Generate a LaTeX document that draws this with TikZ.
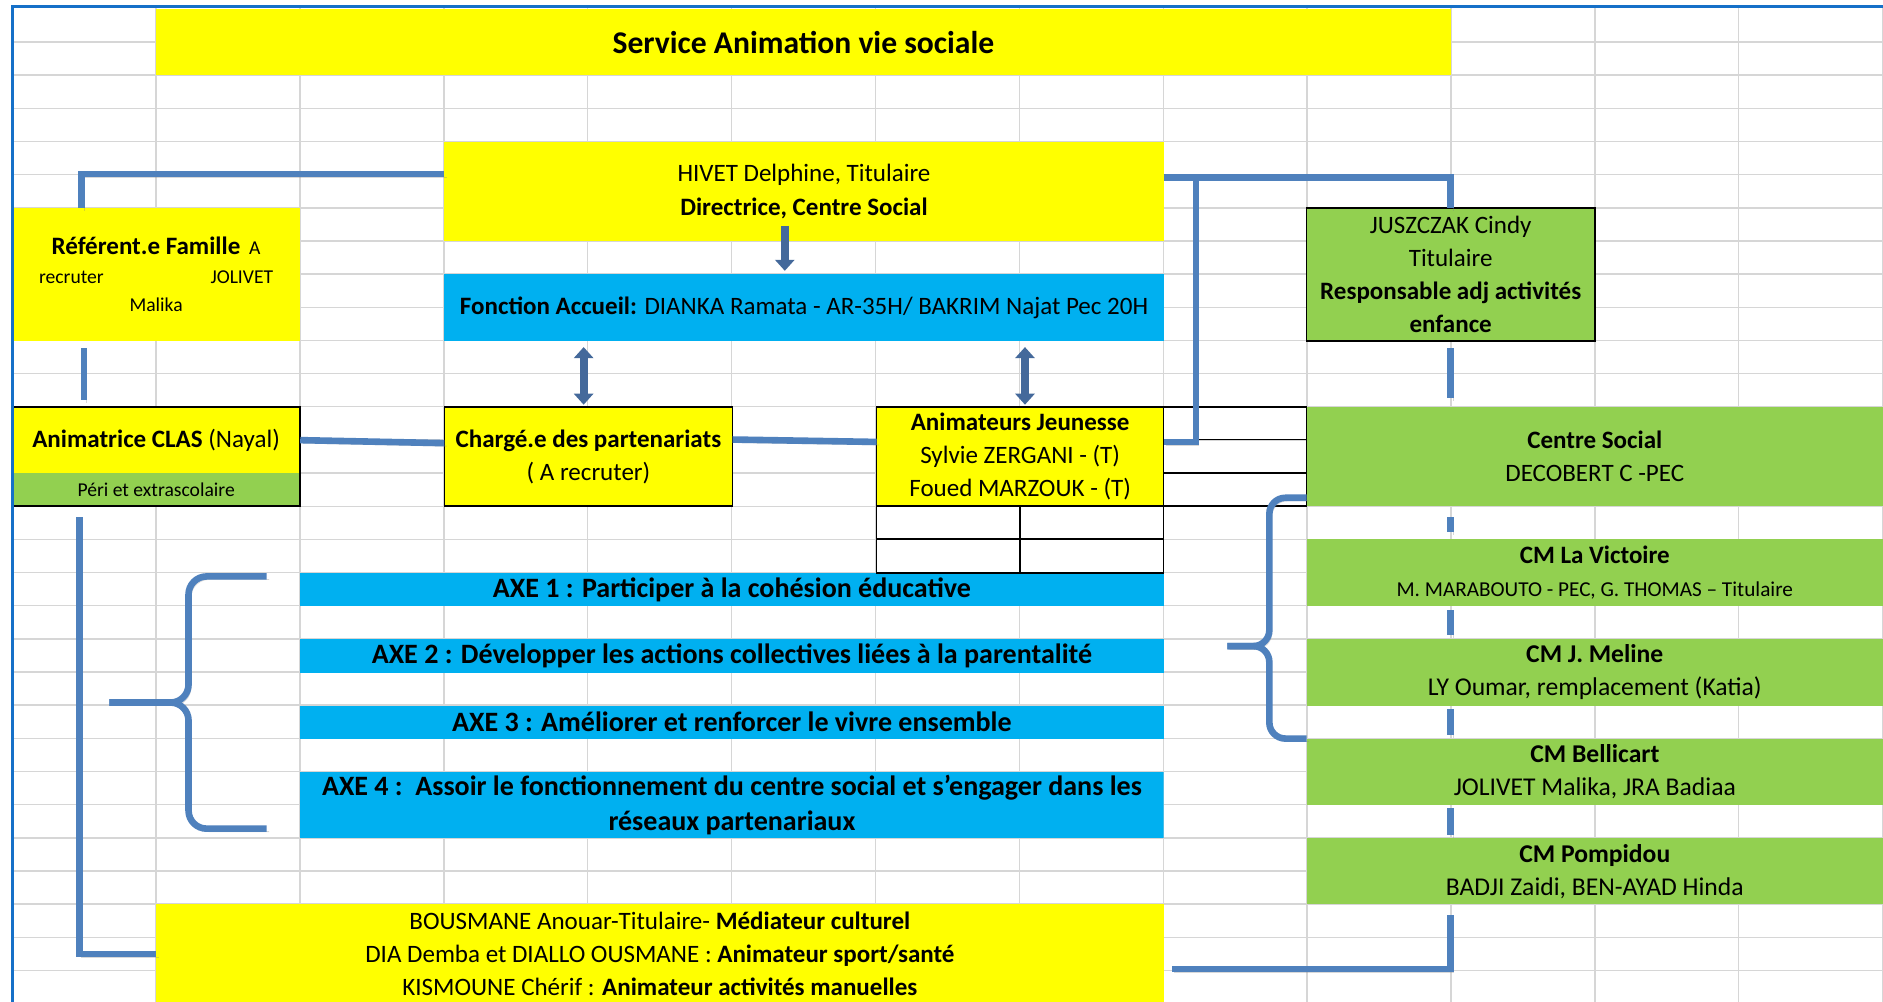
\documentclass[tikz,border=0pt]{standalone}
\usepackage{fontspec}
\setmainfont{Carlito}
\usepackage{tikz}
\usetikzlibrary{arrows.meta}
\usetikzlibrary{positioning}
\usetikzlibrary{calc}

\definecolor{xlyellow}{HTML}{FFFF00}
\definecolor{xlgreen}{HTML}{92D050}
\definecolor{xlcyan}{HTML}{00B0F0}
\definecolor{lnblue}{HTML}{4F81BD}
\definecolor{arblue}{HTML}{44699B}
\definecolor{gridgray}{HTML}{D6D6D6}
\definecolor{frameblue}{HTML}{1570C8}

\newcommand\szBody{\fontsize{12.5}{16.56}\selectfont}
\newcommand\szTitle{\fontsize{15.8}{19}\selectfont}
\newcommand\szAxe{\fontsize{14}{17.4}\selectfont}
\newcommand\szSmall{\fontsize{9.8}{14.4}\selectfont}
\newcommand\szNote{\fontsize{10.6}{16.56}\selectfont}
\newcommand\szBig{\fontsize{12.8}{16.56}\selectfont}

\begin{document}
\begin{tikzpicture}[x=0.6pt, y=-0.6pt, font=\szBody,
        cell/.style={inner sep=0pt, outer sep=0pt, align=center, anchor=north west},
        sized/.style 2 args={minimum width={#1*0.6pt}, minimum height={#2*0.6pt}},
        ybox/.style={cell, fill=xlyellow},
        gbox/.style={cell, fill=xlgreen},
        bbox/.style={cell, fill=xlcyan},
        edged/.style={draw=black, line width=0.8pt},
        gridline/.style={draw=gridgray, line width=0.7pt},
        conn/.style={draw=lnblue, line width=3.3pt,
            preaction={draw=black!50, opacity=0.3, transform canvas={shift={(1.2pt,-1.5pt)}}}},
        arr/.style={draw=arblue, line width=4pt, -{Triangle[width=9.5pt,length=5.5pt]}},
        darr/.style={arr, {Triangle[width=9.5pt,length=5.5pt]}-{Triangle[width=9.5pt,length=5.5pt]}}]
        \useasboundingbox (0,0) rectangle (1568,834);
        \fill[white] (0,0) rectangle (1568,834);
        \foreach \j in {0,...,28}
            \draw[gridline] (10,{35+27.61*\j}) -- (1568,{35+27.61*\j});
        \foreach \i in {0,...,12}
            \draw[gridline] ({130+119.8*\i},7) -- ({130+119.8*\i},834);

        \node (title) [ybox, sized={1078}{55.2}, font=\szTitle\bfseries] at (130,7.4) {Service Animation vie sociale};
        \node (hivet) [ybox, sized={599}{83}] at (370,118) {HIVET Delphine, Titulaire\\\textbf{Directrice, Centre Social}};
        \node (accueil) [bbox, sized={599}{55.5}] at (370,228.5) {\textbf{Fonction Accueil:} DIANKA Ramata - AR-35H/ BAKRIM Najat Pec 20H};
        \node (ref) [ybox, sized={240}{111}, font=\szSmall] at (10,173) {{\szBody\bfseries Référent.e Famille}\ \ A\\\makebox[117pt]{recruter\hfill JOLIVET}\\Malika};
        \node (clas) [ybox, sized={240}{55}] at (10,339) {\textbf{Animatrice CLAS} (Nayal)};
        \node (peri) [gbox, sized={240}{27.5}, below=0pt of clas, font=\szSmall] {Péri et extrascolaire};
        \node (charge) [ybox, edged, sized={240}{82.5}] at (370,339) {\textbf{Chargé.e des partenariats}\\( A recruter)};
        \node (anim) [ybox, edged, sized={239}{82.5}] at (730,339) {\textbf{Animateurs Jeunesse}\\Sylvie ZERGANI - (T)\\Foued MARZOUK - (T)};
        \node (jusz) [gbox, edged, sized={240}{111}] at (1088,173) {JUSZCZAK Cindy\\Titulaire\\\textbf{Responsable adj activités}\\\textbf{enfance}};
        \node (centre) [gbox, sized={480}{82.5}] at (1088,339) {\textbf{Centre Social}\\DECOBERT C -PEC};
        \node (vic) [gbox, sized={480}{56}] at (1088,449) {\textbf{CM La Victoire}\\{\szNote M. MARABOUTO - PEC, G. THOMAS – Titulaire}};
        \node (mel) [gbox, sized={480}{55.5}, font=\szBig] at (1088,532) {\textbf{CM J. Meline}\\LY Oumar, remplacement (Katia)};
        \node (bell) [gbox, sized={480}{55}, font=\szBig] at (1088,615) {\textbf{CM Bellicart}\\JOLIVET Malika, JRA Badiaa};
        \node (pomp) [gbox, sized={480}{55}, font=\szBig] at (1088,698) {\textbf{CM Pompidou}\\BADJI Zaidi, BEN-AYAD Hinda};
        \node (ax1) [bbox, sized={719}{27.6}, font=\szAxe\bfseries] at (250,477) {AXE 1 : Participer à la cohésion éducative};
        \node (ax2) [bbox, sized={719}{28}, font=\szAxe\bfseries] at (250,532) {AXE 2 : Développer les actions collectives liées à la parentalité};
        \node (ax3) [bbox, sized={719}{27.5}, font=\szAxe\bfseries] at (250,587.5) {AXE 3 : Améliorer et renforcer le vivre ensemble};
        \begin{scope}
            \clip (250,643) rectangle (969,698);
            \node (ax4) [bbox, sized={719}{55}, font=\szAxe\bfseries] at (250,643) {AXE 4 :\ \ Assoir le fonctionnement du centre social et s’engager dans les\\réseaux partenariaux};
        \end{scope}
        \node (bot) [ybox, sized={839}{83}] at (130,753) {BOUSMANE Anouar-Titulaire- \textbf{Médiateur culturel}\\DIA Demba et DIALLO OUSMANE : \textbf{Animateur sport/santé}\\KISMOUNE Chérif : \textbf{Animateur activités manuelles}};

        \draw[edged] (clas.north west) rectangle (peri.south east);
        \draw[edged] (anim.north east) rectangle (centre.south west);
        \draw[edged] (969,366) -- (1088,366) (969,394) -- (1088,394);
        \draw[edged] (anim.south west) rectangle (969,477);
        \draw[edged] (anim.south) -- (anim.south |- ax1.north) (730,449) -- (969,449);

        \draw[conn] ($(hivet.north west)+(0,27)$) -| ($(ref.north west)+(58,0)$);
        \draw[conn] ($(ref.south west)+(60,6)$) -- ($(clas.north west)+(60,-6)$);
        \draw[conn] (clas.east) -- ($(charge.north west)+(0,30)$);
        \draw[conn] ($(charge.north east)+(0,27)$) -- ($(anim.north west)+(0,29)$);
        \draw[conn] ($(hivet.north east)+(0,30)$) -| (jusz.north);
        \draw[conn] ($(hivet.north east)+(27,30)$) |- ($(anim.north east)+(0,29)$);
        \draw[conn] ($(jusz.south)+(0,6)$) -- ($(jusz.south |- centre.north)+(0,-8)$);
        \draw[conn] ($(jusz.south |- centre.south)+(0,9)$) -- ($(jusz.south |- vic.north)+(0,-6)$);
        \foreach \a/\b in {vic/mel, mel/bell, bell/pomp}
            \draw[conn] ($(jusz.south |- \a.south)+(0,3)$) -- ($(jusz.south |- \b.north)+(0,-3)$);
        \draw[conn] ($(jusz.south |- pomp.south)+(0,9)$) |- ($(bot.north east)+(7,54)$);
        \draw[conn] ($(peri.south west)+(56,9)$) |- (bot.west);

        \draw[arr] ($(hivet.south)+(-16,-13)$) -- ($(accueil.north)+(-16,-3)$);
        \draw[darr] ($(charge.north)+(-4,-2)$) -- ($(charge.north |- accueil.south)+(-4,5)$);
        \draw[darr] ($(anim.north)+(4,-2)$) -- ($(anim.north |- accueil.south)+(4,5)$);

        \coordinate (lbtip) at (91,585);
        \draw[conn, rounded corners=9pt] ($(ax1.north west)+(-28,3)$) -| ($(lbtip)+(66,0)$) -- (lbtip);
        \draw[conn, rounded corners=9pt] (lbtip) -- ($(lbtip)+(66,0)$) |- ($(ax4.south west)+(-28,-8)$);
        \coordinate (rbtip) at (1022,538);
        \draw[conn, rounded corners=8pt] ($(centre.south west)+(0,-7)$) -| ($(rbtip)+(35,0)$) -- (rbtip);
        \draw[conn, rounded corners=8pt] (rbtip) -- ($(rbtip)+(35,0)$) |- (bell.north west);

        \draw[draw=frameblue, line width=1.7pt] (10.5,834) -- (10.5,5.5) -- (1568,5.5);
    \end{tikzpicture}
\end{document}
